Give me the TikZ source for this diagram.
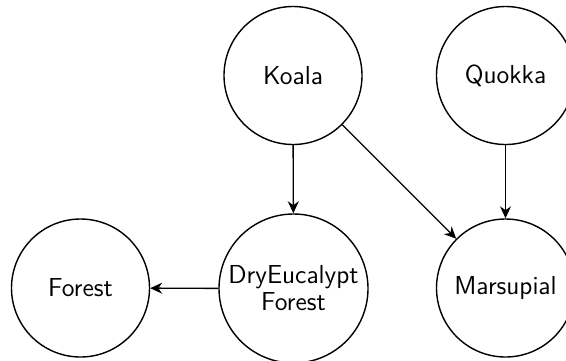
\documentclass[tikz,border=0pt]{standalone}
\usetikzlibrary{arrows.meta}
\begin{document}
\begin{tikzpicture}[x=0.5pt,y=-0.5pt,
  animal/.style={draw,circle,line width=0.7pt,minimum size=69pt,inner sep=0pt,align=center,font=\sffamily\fontsize{13}{13.5}\selectfont},
  link/.style={line width=0.7pt,-{Stealth[length=6pt,width=5.5pt]}}]
\useasboundingbox (0,0) rectangle (566,360);
\begin{scope}
\clip (0,0) rectangle (566,360);
\node[animal] (koala) at (293,75.5) {Koala};
\node[animal] (quokka) at (505.5,75.5) {Quokka};
\node[animal] (forest) at (80.5,288) {Forest};
\node[animal,minimum size=74.5pt] (dry) at (293.5,288.5) {DryEucalypt\\Forest};
\node[animal] (mars) at (505.5,288) {Marsupial};
\draw[link] (koala) -- (dry);
\draw[link] (koala) -- (mars);
\draw[link] (quokka) -- (mars);
\draw[link] (dry) -- (forest);
\end{scope}
\end{tikzpicture}
\end{document}
